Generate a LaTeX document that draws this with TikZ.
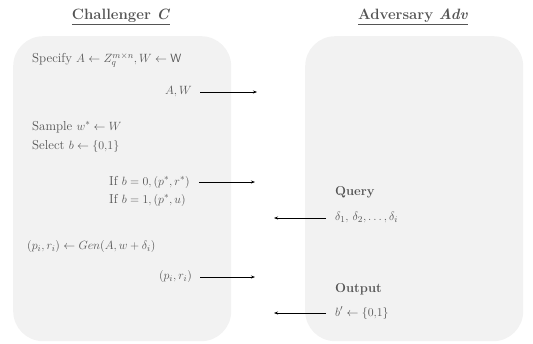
\documentclass[tikz,border=0pt]{standalone}
\usepackage{amsmath,amssymb}
\usetikzlibrary{arrows.meta}
\definecolor{boxgray}{HTML}{F2F2F2}
\definecolor{txtgray}{HTML}{555555}
\tikzset{
  panel/.style={fill=boxgray,draw=none,rounded corners=30bp,minimum width=218bp,minimum height=305bp,anchor=north west,inner sep=0pt},
  txt/.style={text=txtgray,font=\fontsize{13}{15}\selectfont,inner sep=1bp},
  btxt/.style={txt,font=\fontsize{13}{15}\selectfont\bfseries},
  ttl/.style={text=txtgray,font=\fontsize{15}{17}\selectfont\bfseries,inner sep=1bp},
  msg/.style={-{Stealth[length=4bp,width=3bp]},line width=0.6bp,black}
}
\begin{document}
\begin{tikzpicture}[x=1bp,y=-1bp]
\useasboundingbox (0,0) rectangle (533,343);
\node[panel] (cbox) at (13,36) {};
\node[panel] (abox) at (305,36) {};
\node[ttl] (ctitle) at (121,17) {\underline{Challenger \textit{C}}};
\node[ttl] (atitle) at (413,17) {\underline{Adversary \textit{Adv}}};
\node[txt,anchor=west] (spec) at (31,60) {Specify $A\leftarrow Z_q^{m\times n}, W\leftarrow \mathsf{W}$};
\node[txt,anchor=east] (aw) at (193,92) {$A, W$};
\coordinate (awend) at (257,92);
\draw[msg] (aw.east) ++(7,0) -- (awend);
\node[txt,anchor=west] (samp) at (31,127) {Sample $w^{*}\leftarrow W$};
\node[txt,anchor=west] (sel) at (31,146) {Select $b\leftarrow\{0{,}1\}$};
\node[txt,anchor=west] (if0) at (108,182) {If $b=0,(p^{*},r^{*})$};
\node[txt,anchor=west] (if1) at (108,200) {If $b=1,(p^{*},u)$};
\coordinate (if0end) at (255,182);
\draw[msg] (if0.east) ++(8,0) -- (if0end);
\node[btxt,anchor=west] (query) at (334,192) {Query};
\node[txt,anchor=west] (delta) at (334,218) {$\delta_1,\,\delta_2,\dots,\delta_i$};
\coordinate (deltaend) at (274,218);
\draw[msg] (delta.west) ++(-8,0) -- (deltaend);
\node[txt,anchor=west] (gen) at (26,247) {$(p_i,r_i)\leftarrow Gen(A,w+\delta_i)$};
\node[txt,anchor=east] (pr) at (193,277) {$(p_i,r_i)$};
\coordinate (prend) at (255,277);
\draw[msg] (pr.east) ++(7,0) -- (prend);
\node[btxt,anchor=west] (output) at (334,289) {Output};
\node[txt,anchor=west] (bp) at (334,313) {$b'\leftarrow\{0{,}1\}$};
\coordinate (bpend) at (274,313);
\draw[msg] (bp.west) ++(-8,0) -- (bpend);
\end{tikzpicture}
\end{document}
